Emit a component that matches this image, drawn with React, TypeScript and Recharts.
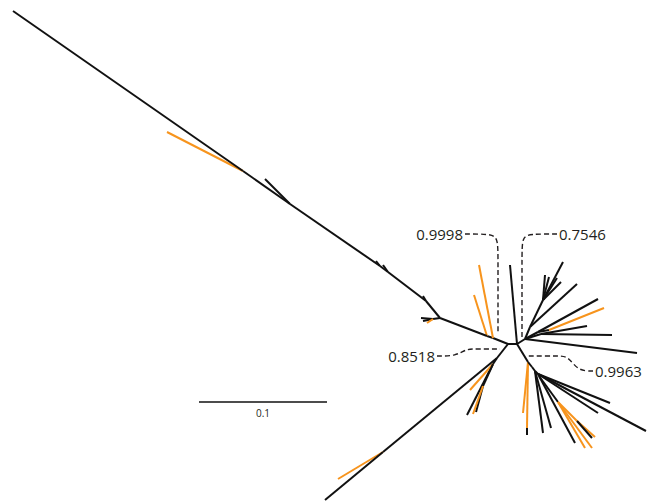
import { ScatterChart, Scatter, XAxis, YAxis } from 'recharts';

// Unrooted tree: [id, parent, x, y, colour of the branch leading to the node]
// x/y are layout units (1 unit ~ 0.1/127 substitutions per site)
type TreeNode = [string, string | null, number, number, 'k' | 'o'];

const centre: TreeNode[] = [
  ['A', null, 508, 344, 'k'],
  ['B', 'A', 517, 344, 'k'],
  ['up1', 'B', 510, 265, 'k'],
];

const upperLeftArm: TreeNode[] = [
  ['N2', 'A', 493, 338, 'k'],
  ['N1', 'N2', 487, 336, 'k'],
  ['o1', 'N2', 479, 265, 'o'],
  ['o2', 'N1', 474, 295, 'o'],
  ['P1', 'N1', 440, 318, 'k'],
  ['P1a', 'P1', 433, 319, 'k'],
  ['t1', 'P1a', 421, 318, 'k'],
  ['t2', 'P1a', 423, 321, 'k'],
  ['o3', 'P1a', 427, 323, 'o'],
  ['M1', 'P1', 426, 301, 'k'],
  ['t3', 'M1', 423, 296, 'k'],
  ['M2', 'M1', 388, 272, 'k'],
  ['t4', 'M2', 383, 265, 'k'],
  ['M3', 'M2', 380, 266, 'k'],
  ['t5', 'M3', 376, 261, 'k'],
  ['M4', 'M3', 290, 204, 'k'],
  ['t6', 'M4', 265, 179, 'k'],
  ['M5', 'M4', 243, 171, 'k'],
  ['o4', 'M5', 167, 132, 'o'],
  ['T1', 'M5', 13, 11, 'k'],
];

const lowerLeftArm: TreeNode[] = [
  ['L1', 'A', 497, 358, 'k'],
  ['L2', 'L1', 383, 452, 'k'],
  ['o5', 'L2', 338, 479, 'o'],
  ['T2', 'L2', 325, 500, 'k'],
  ['L3', 'L1', 493, 364, 'k'],
  ['t7', 'L3', 467, 415, 'k'],
  ['o6', 'L3', 470, 390, 'o'],
  ['L4', 'L3', 483, 386, 'k'],
  ['t8', 'L4', 476, 412, 'k'],
  ['o7', 'L4', 473, 414, 'o'],
];

const upperRightClade: TreeNode[] = [
  ['C', 'B', 525, 339, 'k'],
  ['t9', 'C', 637, 353, 'k'],
  ['C2', 'C', 541, 334, 'k'],
  ['t10', 'C2', 612, 335, 'k'],
  ['t11', 'C2', 587, 326, 'k'],
  ['C3', 'C', 538, 332, 'k'],
  ['t12', 'C3', 598, 299, 'k'],
  ['C4', 'C3', 549, 330, 'k'],
  ['o8', 'C4', 604, 308, 'o'],
  ['C5', 'C', 530, 327, 'k'],
  ['t13', 'C5', 577, 284, 'k'],
  ['C6', 'C5', 543, 300, 'k'],
  ['t14', 'C6', 563, 262, 'k'],
  ['t15', 'C6', 545, 275, 'k'],
  ['t16', 'C6', 549, 277, 'k'],
  ['t17', 'C6', 557, 278, 'k'],
  ['t18', 'C6', 561, 282, 'k'],
];

const lowerRightClade: TreeNode[] = [
  ['Dp', 'B', 528, 362, 'k'],
  ['o9', 'Dp', 523, 413, 'o'],
  ['D0', 'Dp', 527, 428, 'o'],
  ['t19', 'D0', 527, 435, 'k'],
  ['D', 'Dp', 532, 367, 'k'],
  ['D1', 'D', 535, 371, 'k'],
  ['t20', 'D1', 543, 433, 'k'],
  ['t21', 'D1', 551, 428, 'k'],
  ['D2', 'D1', 538, 374, 'k'],
  ['t22', 'D2', 610, 403, 'k'],
  ['t23', 'D2', 598, 413, 'k'],
  ['t24', 'D2', 646, 431, 'k'],
  ['D3', 'D2', 539, 376, 'k'],
  ['t25', 'D3', 575, 443, 'k'],
  ['D4', 'D3', 558, 402, 'k'],
  ['o10', 'D4', 585, 448, 'o'],
  ['o11', 'D4', 592, 448, 'o'],
  ['D5', 'D4', 577, 421, 'o'],
  ['o12', 'D5', 595, 437, 'o'],
  ['t26', 'D5', 592, 438, 'k'],
];

// support values and their dashed leaders (from label to branch)
const supportValues = ['0.9998', '0.7546', '0.8518', '0.9963'];
const supportLeaders: [number, number][][] = [
  [[465, 234], [489, 234], [498, 237], [498, 258], [498, 333]],
  [[557, 234], [530, 234], [522, 237], [522, 258], [522, 338]],
  [[437, 356], [456, 356], [466, 349], [476, 349], [500, 349]],
  [[593, 371], [578, 371], [568, 356], [558, 356], [528, 356]],
];

const scaleBar: [number, number][] = [[199, 402], [327, 402]];
const scaleBarLabel = '0.1';

const BLACK = '#111111';
const ORANGE = '#f7941d';
const FONT = '"Open Sans", "Noto Sans", sans-serif';

const allNodes = [...centre, ...upperLeftArm, ...lowerLeftArm, ...upperRightClade, ...lowerRightClade];
const byId = new Map(allNodes.map((n) => [n[0], n]));

const branches = allNodes
  .filter((n) => n[1] !== null)
  .map((n) => {
    const p = byId.get(n[1] as string)!;
    return {
      id: n[0],
      colour: n[4],
      data: [
        { x: p[2], y: p[3] },
        { x: n[2], y: n[3] },
      ],
    };
  });

const noDot = () => <g />;

const labelShape = (props: any) => {
  const { cx, cy, payload } = props;
  return (
    <text
      x={cx}
      y={cy}
      textAnchor={payload.anchor}
      dominantBaseline="central"
      fontFamily={FONT}
      fontSize={payload.size}
      fill="#231f20"
    >
      {payload.text}
    </text>
  );
};

export default function App() {
  const labelPoints = supportLeaders.map((pts, i) => {
    const [sx, sy] = pts[0];
    const leftSide = sx < pts[pts.length - 1][0];
    return {
      x: leftSide ? sx - 2 : sx + 2,
      y: sy,
      text: supportValues[i],
      anchor: leftSide ? 'end' : 'start',
      size: 15,
    };
  });
  const barLabel = [
    {
      x: (scaleBar[0][0] + scaleBar[1][0]) / 2,
      y: scaleBar[0][1] + 11,
      text: scaleBarLabel,
      anchor: 'middle',
      size: 10,
    },
  ];

  return (
    <div style={{ position: 'absolute', left: 0, top: 0, width: 649, height: 502, background: '#fff' }}>
      <ScatterChart width={649} height={502} margin={{ top: 0, right: 0, bottom: 0, left: 0 }}>
        <XAxis type="number" dataKey="x" domain={[0, 649]} hide allowDataOverflow />
        <YAxis type="number" dataKey="y" domain={[0, 502]} reversed hide allowDataOverflow />

        {supportLeaders.map((pts, i) => (
          <Scatter
            key={`lead-${i}`}
            data={pts.map(([x, y]) => ({ x, y }))}
            line={{ stroke: '#231f20', strokeWidth: 1.4, strokeDasharray: '5 3' }}
            lineJointType="basis"
            shape={noDot}
            isAnimationActive={false}
          />
        ))}

        {branches.map((b) => (
          <Scatter
            key={b.id}
            data={b.data}
            line={{ stroke: b.colour === 'o' ? ORANGE : BLACK, strokeWidth: 2 }}
            shape={noDot}
            isAnimationActive={false}
          />
        ))}

        <Scatter
          data={scaleBar.map(([x, y]) => ({ x, y }))}
          line={{ stroke: BLACK, strokeWidth: 1.5 }}
          shape={noDot}
          isAnimationActive={false}
        />
        <Scatter data={labelPoints} shape={labelShape} isAnimationActive={false} />
        <Scatter data={barLabel} shape={labelShape} isAnimationActive={false} />
      </ScatterChart>
    </div>
  );
}
